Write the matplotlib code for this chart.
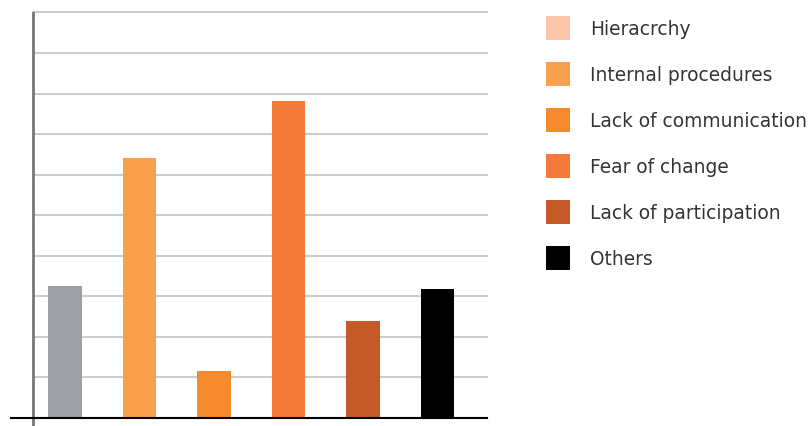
import matplotlib.pyplot as plt
from matplotlib.patches import Patch

plt.rcParams['font.family'] = ['DejaVu Sans']

# Causes of resistance and their scores
labels = ['Hieracrchy', 'Internal procedures', 'Lack of communication',
          'Fear of change', 'Lack of participation', 'Others']
values = [3.26, 6.42, 1.17, 7.82, 2.40, 3.17]
bar_colors = ['#9c9fa3', '#f9a04d', '#f58a2e', '#f37a38', '#c55a28', '#000000']
legend_colors = ['#fcc4a8', '#f9a04d', '#f58a2e', '#f37a38', '#c55a28', '#000000']


def main():
    fig = plt.figure(figsize=(8.11, 4.27), dpi=100)
    ax = fig.add_axes([33 / 811, 8 / 427, 454 / 811, 405.5 / 427])

    x = range(len(values))
    ax.bar(x, values, width=0.45, color=bar_colors, zorder=3)

    ax.set_xlim(-0.43, 5.665)
    ax.set_ylim(0, 10)
    ax.set_yticks(range(11))
    ax.set_xticks([])
    ax.tick_params(left=False, labelleft=False)
    ax.grid(axis='y', color='#cccccc', linewidth=1.5, zorder=0)
    for line in ax.get_ygridlines():
        line.set_clip_on(False)

    for side in ['top', 'right', 'bottom', 'left']:
        ax.spines[side].set_visible(False)

    # Axis lines run a bit past the plot area
    ax.plot([0, 0], [-0.02, 1.0], transform=ax.transAxes, color='#777777',
            linewidth=2, clip_on=False, zorder=4)
    ax.plot([-0.048, 1.0], [0, 0], transform=ax.transAxes, color='#000000',
            linewidth=1.5, clip_on=False, zorder=5)

    handles = [Patch(facecolor=c, edgecolor='none', label=l)
               for c, l in zip(legend_colors, labels)]
    fig.legend(handles=handles, loc='upper left', bbox_to_anchor=(546 / 811, 1 - 17 / 427),
               frameon=False, fontsize=13.4, handlelength=1.29, handleheight=1.61,
               handletextpad=1.07, labelspacing=1.18, borderaxespad=0, borderpad=0,
               labelcolor='#333333')

    plt.savefig('out.png')


if __name__ == '__main__':
    main()
